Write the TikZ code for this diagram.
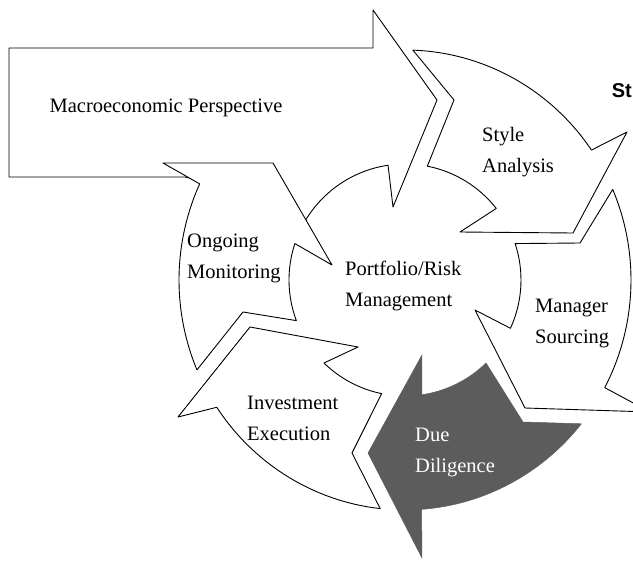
\documentclass[tikz,border=0pt]{standalone}
\usepackage{fontspec}
\setmainfont{Liberation Serif}
\newfontfamily\headfont{Liberation Sans}
\usetikzlibrary{calc}
\begin{document}
\begin{tikzpicture}[x=1pt,y=-1pt,
  seg/.style={draw=black, fill=white, line width=0.9pt, line join=round},
  shaded/.style={fill=black!64, draw=black!64, line width=0.5pt, line join=round},
  lbl/.style={font=\fontsize{20.5}{31}\selectfont, align=left, inner sep=0pt, anchor=west}]
  % page
  \fill[white] (0,0) rectangle (633,562);
  \useasboundingbox (0,0) rectangle (633,562);
  % ring centre; outer rim 226 x 230, inner rim 116
  \coordinate (C) at (405,280);

  % wide arrow entering the cycle from the left
  \path[seg] (9,48) -- (373,48) -- (373,10) -- (437,100) -- (393,207)
    -- ($(C)+(261.6:116)$) arc[start angle=261.6, end angle=210.6, radius=116]
    -- (250,190) -- (185,177) -- (9,177) -- cycle;

  % ongoing monitoring
  \path[seg] (163,163) -- (273,163) -- (332,265)
    -- ($(C)+(198.3:116)$) arc[start angle=198.3, end angle=159.5, radius=116]
    -- (243,312)
    -- ($(C)+(157:226 and 230)$) arc[start angle=157, end angle=204.7, x radius=226, y radius=230]
    -- cycle;

  % style analysis
  \path[seg] ($(C)+(272:226 and 230)$) -- (454,100)
    -- ($(C)+(281.1:116)$) arc[start angle=281.1, end angle=321.9, radius=116]
    -- (460,232) -- (573,233) -- (627,132)
    -- ($(C)+(325.6:226 and 230)$) arc[start angle=325.6, end angle=272, x radius=226, y radius=230]
    -- cycle;

  % manager sourcing
  \path[seg] ($(C)+(336.8:226 and 230)$) -- (580,243)
    -- ($(C)+(341.7:116)$) arc[start angle=341.7, end angle=384.6, radius=116]
    -- (475,310) -- (525,408) -- (650,412)
    -- ($(C)+(387.9:226 and 230)$) arc[start angle=387.9, end angle=336.8, x radius=226, y radius=230]
    -- cycle;

  % due diligence (shaded)
  \path[shaded] ($(C)+(38.7:226 and 230)$) -- (523,422)
    -- ($(C)+(45.7:116)$) arc[start angle=45.7, end angle=81.7, radius=116]
    -- (422,355) -- (368,453) -- (422,558)
    -- ($(C)+(85.8:226 and 230)$) arc[start angle=85.8, end angle=38.7, x radius=226, y radius=230]
    -- cycle;

  % investment execution
  \path[seg] ($(C)+(96.3:226 and 230)$) -- (352,453)
    -- ($(C)+(101.6:116)$) arc[start angle=101.6, end angle=134.3, radius=116]
    -- (358,347) -- (250,327) -- (178,417)
    -- ($(C)+(146.4:226 and 230)$) arc[start angle=146.4, end angle=96.3, x radius=226, y radius=230]
    -- cycle;

  % labels
  \node[lbl, anchor=center] (macro) at (166,108) {Macroeconomic Perspective};
  \node[lbl] (ongoing) at (187,258) {Ongoing\\Monitoring};
  \node[lbl] (core) at (345,286) {Portfolio/Risk\\Management};
  \node[lbl] (style) at (482,152) {Style\\Analysis};
  \node[lbl] (manager) at (535,323) {Manager\\Sourcing};
  \node[lbl] (invest) at (247,418) {Investment\\Execution};
  \node[lbl, text=white] (due) at (415,452) {Due\\Diligence};
  \node[anchor=base east, inner sep=0pt, font=\headfont\bfseries\fontsize{20}{20}\selectfont] (st) at (632,97) {St};
\end{tikzpicture}
\end{document}
